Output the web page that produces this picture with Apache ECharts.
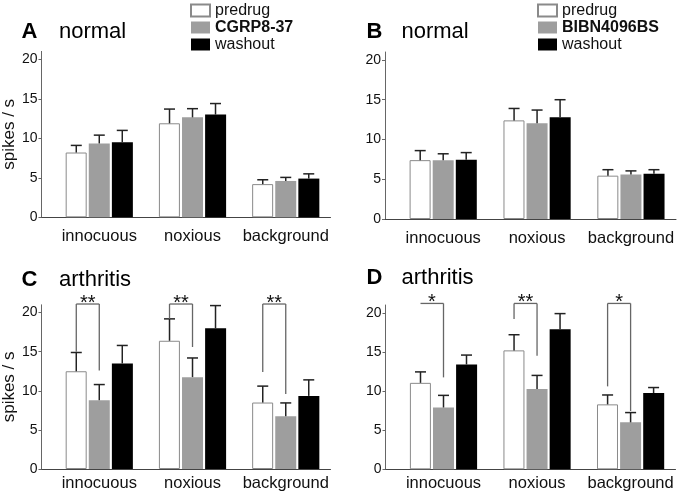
<!DOCTYPE html>
<html><head><meta charset="utf-8">
<script src="https://cdn.jsdelivr.net/npm/echarts@6/dist/echarts.min.js"></script>
<style>html,body{margin:0;padding:0;background:#fff}#c{width:681px;height:496px}</style>
</head><body><div id="c"></div>
<script>
const categories = ['innocuous', 'noxious', 'background'];
const yTicks = [0, 5, 10, 15, 20];

// Panel A: normal, CGRP8-37
const A_predrug = [8.2, 11.9, 4.2];
const A_predrugSem = [0.9, 1.8, 0.55];
const A_drug = [9.35, 12.65, 4.6];
const A_drugSem = [1.05, 1.1, 0.45];
const A_wash = [9.5, 13.0, 4.9];
const A_washSem = [1.5, 1.4, 0.6];
// Panel B: normal, BIBN4096BS
const B_predrug = [7.4, 12.4, 5.45];
const B_predrugSem = [1.2, 1.5, 0.75];
const B_drug = [7.4, 12.05, 5.6];
const B_drugSem = [0.8, 1.65, 0.45];
const B_wash = [7.45, 12.8, 5.7];
const B_washSem = [0.9, 2.2, 0.5];
// Panel C: arthritis, CGRP8-37
const C_predrug = [12.5, 16.4, 8.5];
const C_predrugSem = [2.4, 2.8, 2.1];
const C_drug = [8.8, 11.75, 6.75];
const C_drugSem = [2.0, 2.45, 1.7];
const C_wash = [13.5, 18.0, 9.35];
const C_washSem = [2.3, 2.9, 2.05];
// Panel D: arthritis, BIBN4096BS
const D_predrug = [11.05, 15.2, 8.3];
const D_predrugSem = [1.4, 2.0, 1.2];
const D_drug = [7.9, 10.25, 6.0];
const D_drugSem = [1.55, 1.75, 1.25];
const D_wash = [13.4, 17.9, 9.75];
const D_washSem = [1.2, 2.0, 0.7];

// significance brackets (predrug vs drug)
const C_bracketTop = [21.1, 21.1, 21.1];
const C_bracketLeft = [15.0, 19.2, 12.4];
const C_bracketRight = [12.6, 15.6, 9.6];
const C_stars = ['**', '**', '**'];
const D_bracketTop = [21.2, 21.2, 21.2];
const D_bracketLeft = [21.2, 19.2, 10.6];
const D_bracketRight = [11.75, 14.5, 7.45];
const D_stars = ['*', '**', '*'];

const FONT = "'Liberation Sans', Arial, Helvetica, sans-serif";
const STEP = 23; // px between bar centres in a group

const grids = [
  {left: 40.5, top: 51.4, width: 290, height: 165.9},
  {left: 385, top: 52, width: 291, height: 167},
  {left: 39.5, top: 304.8, width: 291, height: 164.2},
  {left: 385.5, top: 305, width: 290, height: 164.3}
];
const xMargins = [11, 11, 6, 6];

function xAxisFor(i) {
  return {
    type: 'value', gridIndex: i, min: -0.62, max: 2.48,
    axisLine: {show: true, onZero: false, lineStyle: {color: '#444', width: 1}},
    axisTick: {show: false},
    splitLine: {show: false},
    axisLabel: {
      customValues: [0, 1, 2], margin: xMargins[i],
      formatter: v => categories[Math.round(v)] || '',
      color: '#111', fontSize: 16.5, fontFamily: FONT
    }
  };
}
function yAxisFor(i, named) {
  return {
    type: 'value', gridIndex: i, min: 0, max: 21,
    name: named ? 'spikes / s' : '', nameLocation: 'middle', nameGap: 22,
    nameTextStyle: {fontSize: 17, color: '#111', fontFamily: FONT},
    axisLine: {show: true, onZero: false, lineStyle: {color: '#666', width: 1}},
    axisTick: {show: true, length: 3, customValues: yTicks, lineStyle: {color: '#666'}},
    splitLine: {show: false},
    axisLabel: {customValues: yTicks, margin: 4, color: '#111', fontSize: 14, fontFamily: FONT}
  };
}

function barSeries(name, vals, gi, kind) {
  const styles = {
    pre: {color: '#ffffff', borderColor: '#8a8a8a', borderWidth: 1},
    drug: {color: '#9e9e9e', borderColor: '#9e9e9e', borderWidth: 0},
    wash: {color: '#000000', borderColor: '#000', borderWidth: 0}
  };
  return {
    type: 'bar', name: name, xAxisIndex: gi, yAxisIndex: gi,
    barWidth: 21, barGap: '10%',
    itemStyle: styles[kind],
    data: vals.map((v, i) => [i, v]),
    z: 2, animation: false
  };
}
function errSeries(name, vals, sems, gi, offset) {
  return {
    type: 'custom', name: name, xAxisIndex: gi, yAxisIndex: gi, z: 5, animation: false,
    silent: true,
    renderItem: function (params, api) {
      const x = api.value(0), m = api.value(1), s = api.value(2);
      const p0 = api.coord([x, m]);
      const p1 = api.coord([x, m + s]);
      const cx = p0[0] + offset;
      return {type: 'group', children: [
        {type: 'line', shape: {x1: cx, y1: p0[1], x2: cx, y2: p1[1]}, style: {stroke: '#222', lineWidth: 1.5}},
        {type: 'line', shape: {x1: cx - 5.5, y1: p1[1], x2: cx + 5.5, y2: p1[1]}, style: {stroke: '#222', lineWidth: 1.5}}
      ]};
    },
    data: vals.map((v, i) => [i, v, sems[i]])
  };
}
function bracketSeries(gi, tops, lefts, rights, stars) {
  return {
    type: 'custom', xAxisIndex: gi, yAxisIndex: gi, z: 6, animation: false, silent: true,
    renderItem: function (params, api) {
      const x = api.value(0);
      const pl = api.coord([x, api.value(1)]);
      const pr = api.coord([x, api.value(2)]);
      const pt = api.coord([x, api.value(3)]);
      const xl = pl[0] - STEP, xr = pl[0];
      const st = {stroke: '#666', lineWidth: 1.3};
      return {type: 'group', children: [
        {type: 'line', shape: {x1: xl, y1: pt[1], x2: xr, y2: pt[1]}, style: st},
        {type: 'line', shape: {x1: xl, y1: pt[1], x2: xl, y2: pl[1]}, style: st},
        {type: 'line', shape: {x1: xr, y1: pt[1], x2: xr, y2: pr[1]}, style: st},
        {type: 'text', style: {text: stars[params.dataIndex], x: (xl + xr) / 2, y: pt[1] - 1,
          align: 'center', verticalAlign: 'middle', font: '20px ' + FONT, fill: '#111'}}
      ]};
    },
    data: tops.map((t, i) => [i, lefts[i], rights[i], t])
  };
}

function panelSeries(gi, drugName, pre, preS, drug, drugS, wash, washS) {
  return [
    barSeries('predrug', pre, gi, 'pre'),
    barSeries(drugName, drug, gi, 'drug'),
    barSeries('washout', wash, gi, 'wash'),
    errSeries('predrug', pre, preS, gi, -STEP),
    errSeries(drugName, drug, drugS, gi, 0),
    errSeries('washout', wash, washS, gi, STEP)
  ];
}

const series = [].concat(
  panelSeries(0, 'CGRP8-37', A_predrug, A_predrugSem, A_drug, A_drugSem, A_wash, A_washSem),
  panelSeries(1, 'BIBN4096BS', B_predrug, B_predrugSem, B_drug, B_drugSem, B_wash, B_washSem),
  panelSeries(2, 'CGRP8-37', C_predrug, C_predrugSem, C_drug, C_drugSem, C_wash, C_washSem),
  panelSeries(3, 'BIBN4096BS', D_predrug, D_predrugSem, D_drug, D_drugSem, D_wash, D_washSem),
  [bracketSeries(2, C_bracketTop, C_bracketLeft, C_bracketRight, C_stars),
   bracketSeries(3, D_bracketTop, D_bracketLeft, D_bracketRight, D_stars)]
);

function legendFor(left, drugName) {
  return {
    left: left, top: 2, orient: 'vertical', padding: 0, itemGap: 0,
    itemWidth: 19, itemHeight: 12, selectedMode: false,
    textStyle: {fontSize: 16, color: '#111', fontFamily: FONT, lineHeight: 17},
    data: [
      {name: 'predrug', icon: 'rect'},
      {name: drugName, icon: 'rect', textStyle: {fontWeight: 'bold'}},
      {name: 'washout', icon: 'rect'}
    ]
  };
}

function titleFor(text, left, top, bold) {
  return {text: text, left: left, top: top, padding: 0,
    textStyle: {fontSize: 22, fontWeight: bold ? 'bold' : 'normal', color: '#000', fontFamily: FONT}};
}

const option = {
  backgroundColor: '#fff',
  animation: false,
  title: [
    titleFor('A', 21.5, 21, true), titleFor('normal', 59, 21, false),
    titleFor('B', 366.5, 21, true), titleFor('normal', 401.5, 21, false),
    titleFor('C', 21.5, 269, true), titleFor('arthritis', 59, 269, false),
    titleFor('D', 366.5, 267, true), titleFor('arthritis', 401.5, 267, false)
  ],
  legend: [legendFor(190, 'CGRP8-37'), legendFor(537, 'BIBN4096BS')],
  grid: grids,
  xAxis: [0, 1, 2, 3].map(xAxisFor),
  yAxis: [yAxisFor(0, true), yAxisFor(1, false), yAxisFor(2, true), yAxisFor(3, false)],
  series: series
};
const chart = echarts.init(document.getElementById('c'), null, {renderer: 'canvas'});
chart.setOption(option);
</script>
</body></html>
